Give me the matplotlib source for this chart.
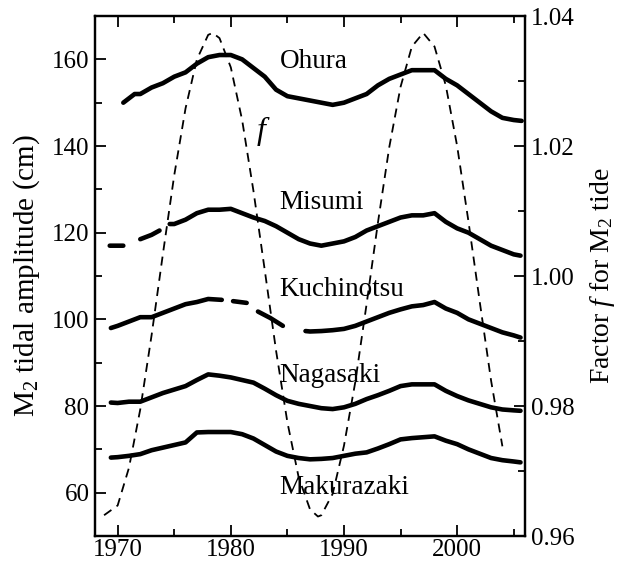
import numpy as np
import matplotlib.pyplot as plt
from matplotlib.ticker import MultipleLocator, FormatStrFormatter

plt.rcParams['font.family'] = 'Liberation Serif'
plt.rcParams['mathtext.fontset'] = 'custom'
plt.rcParams['mathtext.rm'] = 'Liberation Serif'
plt.rcParams['mathtext.it'] = 'Liberation Serif:italic'

nan = np.nan

# M2 amplitude (cm) per station, nan = gap in record
ohura_yr = [1970.5, 1971, 1971.5, 1972, 1973, 1974, 1975, 1976, 1977, 1978, 1979, 1980,
            1981, 1982, 1983, 1984, 1985, 1986, 1987, 1988, 1989, 1990, 1991, 1992,
            1993, 1994, 1995, 1996, 1997, 1998, 1999, 2000, 2001, 2002, 2003, 2004,
            2005, 2005.7]
ohura = [150, 151, 152, 152, 153.5, 154.5, 156, 157, 159, 160.5, 161, 161,
         160, 158, 156, 153, 151.5, 151, 150.5, 150, 149.5, 150, 151, 152,
         154, 155.5, 156.5, 157.5, 157.5, 157.5, 155.5, 154, 152, 150, 148, 146.5,
         146, 145.8]

misumi_yr = [1969.3, 1970.5, 1971, 1972, 1973, 1973.7, 1974.1, 1974.6, 1975, 1976, 1977,
             1978, 1979, 1980, 1981, 1982, 1983, 1984, 1985, 1986, 1987, 1988, 1989,
             1990, 1991, 1992, 1993, 1994, 1995, 1996, 1997, 1998, 1999, 2000, 2001,
             2002, 2003, 2004, 2005, 2005.6]
misumi = [117, 117, nan, 118.5, 119.5, 120.5, nan, 122, 122, 123, 124.5,
          125.3, 125.3, 125.5, 124.5, 123.5, 122.7, 121.5, 120, 118.5, 117.5, 117, 117.5,
          118, 119, 120.5, 121.5, 122.5, 123.5, 124, 124, 124.5, 122.5, 121, 120,
          118.5, 117, 116, 115, 114.7]

kuchi_yr = [1969.4, 1970, 1971, 1972, 1973, 1974, 1975, 1976, 1977, 1978, 1979.2,
            1979.7, 1980.2, 1981.4, 1981.9, 1982.4, 1983.5, 1984.6, 1985.6,
            1986.6, 1987, 1988, 1989, 1990, 1991, 1992, 1993, 1994, 1995, 1996, 1997,
            1998, 1999, 2000, 2001, 2002, 2003, 2004, 2005, 2005.6]
kuchi = [98, 98.5, 99.5, 100.5, 100.5, 101.5, 102.5, 103.5, 104, 104.7, 104.5,
         nan, 104.2, 103.8, nan, 101.8, 100.3, 98.5, nan,
         97.3, 97.2, 97.3, 97.5, 97.8, 98.5, 99.5, 100.5, 101.5, 102.3, 103, 103.3,
         104, 102.5, 101.5, 100, 99, 98, 97, 96.3, 95.8]

naga_yr = [1969.4, 1970, 1971, 1972, 1973, 1974, 1975, 1976, 1977, 1978, 1979, 1980,
           1981, 1982, 1983, 1984, 1985, 1986, 1987, 1988, 1989, 1990, 1991, 1992,
           1993, 1994, 1995, 1996, 1997, 1998, 1999, 2000, 2001, 2002, 2003, 2004,
           2005, 2005.6]
naga = [80.8, 80.7, 81, 81, 82, 83, 83.8, 84.6, 86, 87.3, 87, 86.6,
        86, 85.4, 84, 82.5, 81.2, 80.5, 80, 79.5, 79.3, 79.7, 80.5, 81.6,
        82.5, 83.5, 84.6, 85, 85, 85, 83.5, 82.3, 81.3, 80.5, 79.7, 79.2,
        79, 78.9]

maku_yr = [1969.4, 1970, 1971, 1972, 1973, 1974, 1975, 1976, 1977, 1978, 1979, 1980,
           1981, 1982, 1983, 1984, 1985, 1986, 1987, 1988, 1989, 1990, 1991, 1992,
           1993, 1994, 1995, 1996, 1997, 1998, 1999, 2000, 2001, 2002, 2003, 2004,
           2005, 2005.6]
maku = [68.1, 68.2, 68.5, 68.9, 69.8, 70.4, 71, 71.6, 73.9, 74, 74, 74,
        73.5, 72.5, 71, 69.5, 68.5, 68, 67.7, 67.8, 68, 68.5, 69, 69.3,
        70.2, 71.2, 72.3, 72.6, 72.8, 73, 72, 71.2, 70, 69, 68, 67.5,
        67.2, 67]

# nodal factor f for M2 (right axis)
f_yr = [1968.8, 1970, 1971, 1972, 1973, 1974, 1975, 1976, 1977, 1978, 1978.4, 1979,
        1980, 1981, 1982, 1983, 1984, 1985, 1986, 1987, 1987.7, 1988, 1989, 1990,
        1991, 1992, 1993, 1994, 1995, 1996, 1997, 1998, 1999, 2000, 2001, 2002,
        2003, 2004]
f_val = [0.9632, 0.9647, 0.9705, 0.9795, 0.9909, 1.0034, 1.0155, 1.0258, 1.0333, 1.0371, 1.0374, 1.0366,
         1.0321, 1.0240, 1.0131, 1.0009, 0.9885, 0.9775, 0.9690, 0.9641, 0.9630, 0.9632, 0.9665, 0.9739,
         0.9837, 0.9957, 1.0082, 1.0198, 1.0291, 1.0353, 1.0374, 1.0353, 1.0293, 1.0200, 1.0084, 0.9960,
         0.9839, 0.9738]

fig = plt.figure(figsize=(6.19, 5.64), dpi=100)
ax = fig.add_axes([0.1535, 0.0496, 0.6947, 0.922])
ax2 = ax.twinx()

lw = 3.3
for xs, ys in [(ohura_yr, ohura), (misumi_yr, misumi), (kuchi_yr, kuchi),
               (naga_yr, naga), (maku_yr, maku)]:
    ax.plot(xs, ys, color='black', lw=lw, solid_capstyle='round')

ax2.plot(f_yr, f_val, color='black', lw=1.3, ls=(0, (5, 3.5)))

ax.set_xlim(1968, 2006)
ax.set_ylim(50, 170)
ax2.set_ylim(0.96, 1.04)

ax.xaxis.set_major_locator(MultipleLocator(10))
ax.xaxis.set_minor_locator(MultipleLocator(5))
ax.yaxis.set_major_locator(MultipleLocator(20))
ax.yaxis.set_minor_locator(MultipleLocator(10))
ax2.yaxis.set_major_locator(MultipleLocator(0.02))
ax2.yaxis.set_minor_locator(MultipleLocator(0.01))
ax2.yaxis.set_major_formatter(FormatStrFormatter('%.2f'))

fs = 18
ax.tick_params(axis='x', which='both', direction='in', top=True, labelsize=fs, pad=2)
ax.tick_params(axis='y', which='both', direction='in', labelsize=fs, pad=4)
ax.tick_params(which='major', length=8, width=1.3)
ax.tick_params(which='minor', length=5, width=1.3)
ax2.tick_params(which='both', direction='in', labelsize=fs, pad=4, width=1.3)
ax2.tick_params(which='major', length=8)
ax2.tick_params(which='minor', length=5)

for a in (ax, ax2):
    for s in a.spines.values():
        s.set_linewidth(1.6)

ax.set_ylabel('M$_2$ tidal amplitude (cm)', fontsize=21, labelpad=7)
ax2.set_ylabel('Factor $f$ for M$_2$ tide', fontsize=20, labelpad=10, rotation=90)

st = 19.5
ax.text(1984.3, 159.5, 'Ohura', fontsize=st, va='center')
ax.text(1984.3, 127, 'Misumi', fontsize=st, va='center')
ax.text(1984.3, 107, 'Kuchinotsu', fontsize=st, va='center')
ax.text(1984.3, 87, 'Nagasaki', fontsize=st, va='center')
ax.text(1984.3, 61.3, 'Makurazaki', fontsize=st, va='center')
ax.text(1982.9, 143.4, '$f$', fontsize=23, ha='center', va='center')

plt.savefig('out.png', dpi=100)
